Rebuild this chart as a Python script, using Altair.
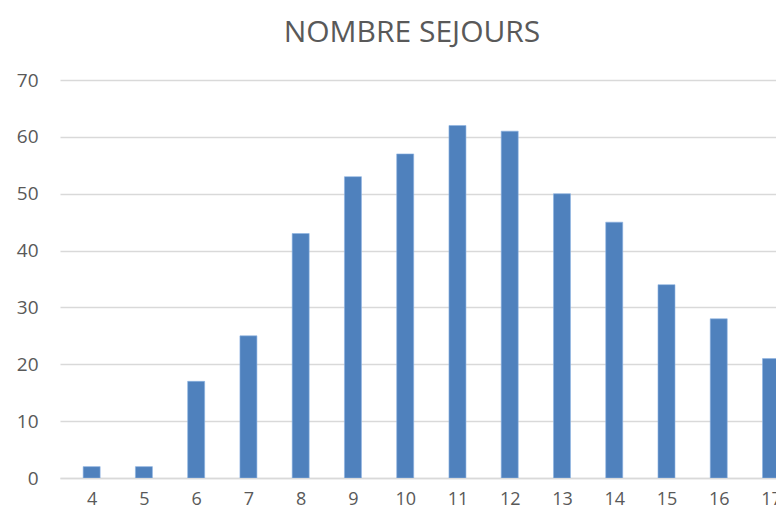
import altair as alt
import pandas as pd

days = [4, 5, 6, 7, 8, 9, 10, 11, 12, 13, 14, 15, 16, 17]
sejours = [2, 2, 17, 25, 43, 53, 57, 62, 61, 50, 45, 34, 28, 21]

df = pd.DataFrame({"jours": days, "sejours": sejours})

FONT = "Open Sans"
GREY = "#595959"

chart = (
    alt.Chart(df)
    .mark_bar(size=17, color="#4F81BD", stroke="#8DB3E2", strokeWidth=0.6, clip=True)
    .encode(
        x=alt.X(
            "jours:Q",
            scale=alt.Scale(domain=[3.49, 17.0], nice=False, zero=False),
            axis=alt.Axis(
                values=days,
                title=None,
                grid=False,
                domain=True,
                domainColor="#D9D9D9",
                domainWidth=1.3,
                ticks=False,
                labelPadding=12,
                labelFont=FONT,
                labelFontSize=18,
                labelColor=GREY,
                labelFlush=False,
                labelOverlap=False,
                format="d",
            ),
        ),
        y=alt.Y(
            "sejours:Q",
            scale=alt.Scale(domain=[0, 70], nice=False),
            axis=alt.Axis(
                values=[0, 10, 20, 30, 40, 50, 60, 70],
                title=None,
                grid=True,
                gridColor="#D9D9D9",
                gridWidth=1.3,
                domain=False,
                ticks=False,
                labelPadding=22,
                labelFont=FONT,
                labelFontSize=19,
                labelColor=GREY,
            ),
        ),
    )
    .properties(
        width=716,
        height=398,
        autosize=alt.AutoSizeParams(type="none"),
        padding={"left": 52, "top": 72, "right": 0, "bottom": 32},
        title=alt.TitleParams(
            "NOMBRE SEJOURS",
            font=FONT,
            fontSize=30,
            fontWeight="normal",
            color=GREY,
            anchor="middle",
            baseline="alphabetic",
            dx=-6,
            offset=-1,
        ),
    )
    .configure_view(stroke=None)
)

chart.save("out.html", embed_options={"renderer": "svg", "actions": False})
